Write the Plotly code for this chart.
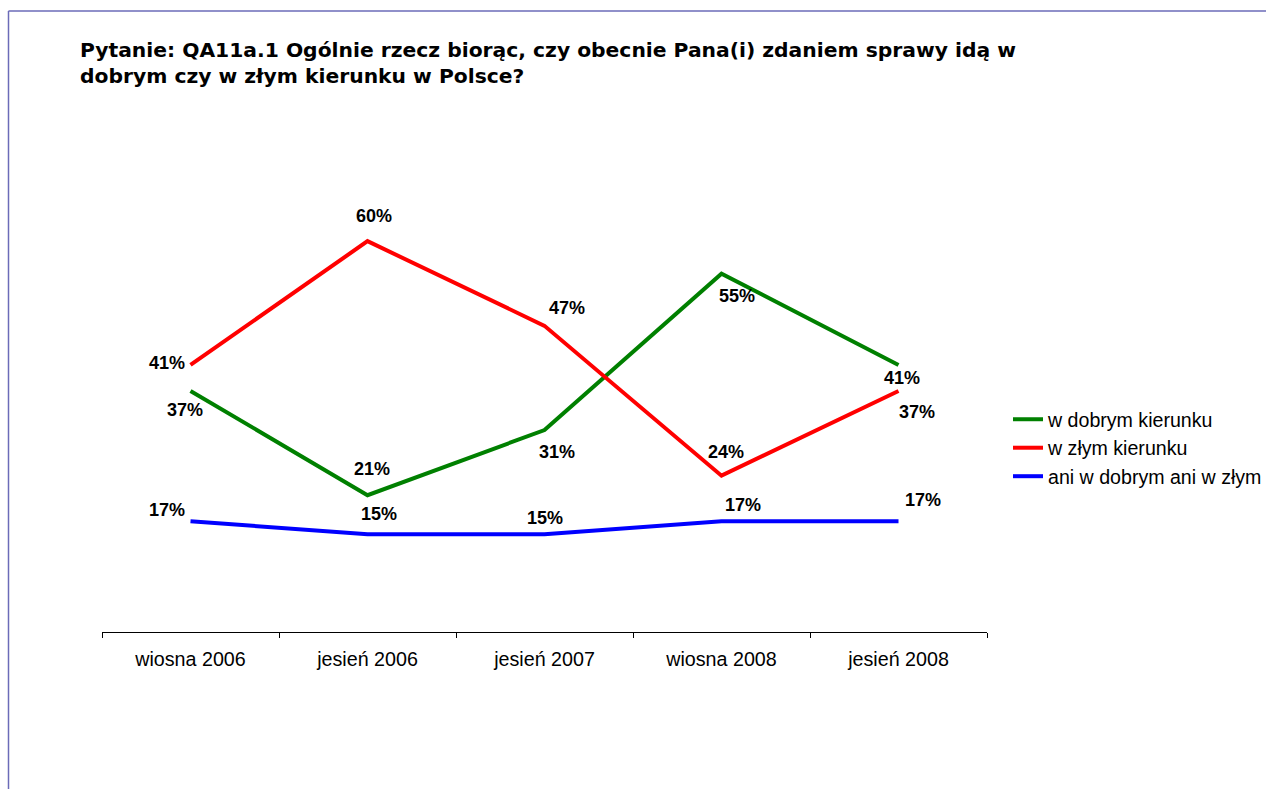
import plotly.graph_objects as go

categories = ["wiosna 2006", "jesień 2006", "jesień 2007", "wiosna 2008", "jesień 2008"]
good = [37, 21, 31, 55, 41]
bad = [41, 60, 47, 24, 37]
neither = [17, 15, 15, 17, 17]
series_names = ["w dobrym kierunku", "w złym kierunku", "ani w dobrym ani w złym"]
colors = ["#008000", "#ff0000", "#0000ff"]

title_text = ("Pytanie: QA11a.1 Ogólnie rzecz biorąc, czy obecnie Pana(i) zdaniem sprawy idą w<br>"
              "dobrym czy w złym kierunku w Polsce?")

W, H = 1266, 789
ml, mr, mt, mb = 102, 279, 176, 157
pw, ph = W - ml - mr, H - mt - mb

fig = go.Figure()
for name, vals, c in zip(series_names, [good, bad, neither], colors):
    fig.add_trace(go.Scatter(x=categories, y=vals, mode="lines", name=name,
                             legendgroup=name,
                             line=dict(color=c, width=4), hoverinfo="skip"))

# label offsets in pixels (xshift, yshift)
offsets = {
    0: [(-6, -19), (4, 26), (12, -22), (15, -22), (3, -13)],
    1: [(-24, 2), (6, 25), (22, 18), (4, 24), (18, -21)],
    2: [(-24, 11), (11, 20), (0, 16), (21, 16), (24, 21)],
}
for si, vals in enumerate([good, bad, neither]):
    for i, v in enumerate(vals):
        dx, dy = offsets[si][i]
        fig.add_annotation(x=categories[i], y=v, text=f"{v}%", showarrow=False,
                           xshift=dx, yshift=dy,
                           font=dict(family="Liberation Sans, Arial", size=18,
                                     color="#000000", weight="bold"))

def px_to_paper_x(p):
    return (p - ml) / pw

def px_to_paper_y(p):
    return (H - mb - p) / ph

fig.add_annotation(text=title_text, xref="paper", yref="paper",
                   x=px_to_paper_x(78), y=px_to_paper_y(36),
                   xanchor="left", yanchor="top", align="left", showarrow=False,
                   font=dict(family="DejaVu Sans", size=20.3, color="#000000", weight="bold"))

border = "#6b6bb8"
fig.add_shape(type="line", xref="paper", yref="paper",
              x0=px_to_paper_x(8.5), x1=px_to_paper_x(W + 5),
              y0=px_to_paper_y(11), y1=px_to_paper_y(11),
              line=dict(color=border, width=1.5))
fig.add_shape(type="line", xref="paper", yref="paper",
              x0=px_to_paper_x(8.5), x1=px_to_paper_x(8.5),
              y0=px_to_paper_y(11), y1=px_to_paper_y(H + 5),
              line=dict(color=border, width=1.5))

fig.update_layout(
    width=W, height=H,
    margin=dict(l=ml, r=mr, t=mt, b=mb, autoexpand=False),
    paper_bgcolor="white", plot_bgcolor="white",
    showlegend=True,
    legend=dict(xref="container", yref="container",
                x=1008 / W, xanchor="left", y=1 - 400 / H, yanchor="top",
                font=dict(family="Liberation Sans, Arial", size=19.6, color="#000000"),
                bgcolor="rgba(0,0,0,0)", tracegroupgap=0),
    xaxis=dict(type="category", range=[-0.5, 4.5], showline=True, linecolor="#000000",
               linewidth=1, ticks="outside", tickson="boundaries", ticklen=5,
               tickcolor="#000000", showgrid=False, zeroline=False, ticklabelstandoff=9,
               tickfont=dict(family="Liberation Sans, Arial", size=19.7, color="#000000")),
    yaxis=dict(range=[0, 70], visible=False, showgrid=False, zeroline=False),
)

fig.write_html("out.html", config={"displayModeBar": False},
               post_script="document.body.style.margin='0';"
                           "document.documentElement.style.overflow='hidden';")
